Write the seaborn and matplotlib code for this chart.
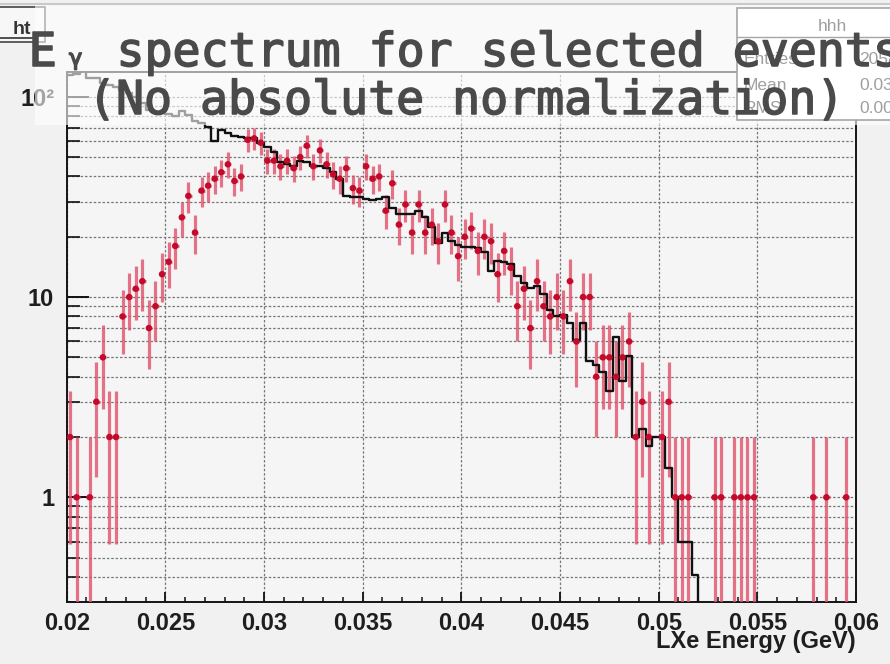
import numpy as np
import pandas as pd
import matplotlib
matplotlib.use("Agg")
import matplotlib.pyplot as plt
import matplotlib.patheffects as pe
import seaborn as sns
from matplotlib.patches import Rectangle
from matplotlib.lines import Line2D
from matplotlib.ticker import FixedLocator, LogLocator, NullFormatter

# ---------------- data ----------------
x_min, x_max, n_bins = 0.02, 0.06, 120

data_counts = [
    2, 1, 0, 1, 3, 5, 2, 2, 8, 10,
    11, 12, 7, 9, 13, 15, 18, 25, 32, 21,
    34, 36, 39, 42, 46, 38, 40, 61, 62, 59,
    48, 48, 45, 48, 44, 50, 57, 45, 54, 46,
    41, 39, 44, 35, 34, 45, 39, 40, 27, 37,
    23, 29, 21, 29, 21, 23, 19, 29, 21, 16,
    20, 22, 17, 20, 19, 13, 17, 14, 9, 11,
    7, 12, 9, 8, 10, 8, 12, 6, 10, 10,
    4, 5, 5, 4, 5, 6, 2, 3, 2, 0,
    2, 3, 1, 1, 1, 0, 0, 0, 1, 1,
    0, 1, 1, 1, 1, 0, 0, 0, 0, 0,
    0, 0, 0, 1, 0, 1, 0, 0, 1, 0,
]

mc_counts = [
    128, 130, 135, 124, 124, 117, 115, 112, 108, 104,
    100, 93, 86, 84, 83, 82, 80, 85, 81, 76,
    74, 71, 60, 68, 66, 64, 63, 62, 62, 59,
    56, 53, 47, 46, 45, 48, 47, 45, 45, 44,
    42, 39, 32, 31.5, 31.5, 31, 30.5, 31, 31.5, 28,
    26, 26, 26, 27, 25, 22.5, 18.6, 21, 19, 18.2,
    17.8, 17.8, 17.5, 16.8, 13.5, 15.2, 15, 14.7, 12.8, 11.8,
    11.1, 11.4, 10.4, 8.6, 8.0, 8.1, 7.4, 6.1, 7.4, 4.8,
    4.6, 4.2, 3.4, 6.3, 3.8, 5.1, 2.0, 2.2, 1.8, 2.0,
    2.0, 1.4, 1.0, 0.6, 0.6, 0.41, 0, 0, 0, 0,
    0, 0, 0, 0, 0, 0, 0, 0, 0, 0,
    0, 0, 0, 0, 0, 0, 0, 0, 0, 0,
]

x_tick_values = [0.02, 0.025, 0.03, 0.035, 0.04, 0.045, 0.05, 0.055, 0.06]
x_tick_labels = ["0.02", "0.025", "0.03", "0.035", "0.04", "0.045", "0.05", "0.055", "0.06"]
y_tick_values = [1, 10, 100]
y_tick_labels = ["1", "10", "10²"]

title_line1_main = "E"
title_line1_sub = "γ"
title_line1_rest = "spectrum for selected events"
title_line2 = "(No absolute normalization)"
x_label = "LXe Energy (GeV)"
stats_name = "hhh"
stats_rows = [("Entries", None), ("Mean", "0.03452"), ("RMS", "0.006087")]

# ---------------- figure ----------------
sns.set_theme(style="ticks")
plt.rcParams["font.family"] = ["Liberation Sans", "DejaVu Sans"]

W, H = 890, 664
fig = plt.figure(figsize=(W / 100, H / 100), dpi=100, facecolor="#f1f1f1")

def fx(px):
    return px / W

def fy(py):
    return 1 - py / H

ax_l, ax_r, ax_t, ax_b = 66.7, 856, 72, 602
ax = fig.add_axes([fx(ax_l), fy(ax_b), (ax_r - ax_l) / W, (ax_b - ax_t) / H])
ax.set_facecolor("#f5f5f5")
ax.set_yscale("log")

edges = np.linspace(x_min, x_max, n_bins + 1)
centers = 0.5 * (edges[:-1] + edges[1:])
bw = edges[1] - edges[0]
counts = np.array(data_counts, dtype=float)
mc = np.array(mc_counts, dtype=float)

# MC histogram (black step outline over bin edges)
df_mc = pd.DataFrame({"E": edges, "N": np.append(mc, mc[-1])})
sns.lineplot(data=df_mc, x="E", y="N", drawstyle="steps-post", color="#111111",
             linewidth=1.7, ax=ax, zorder=4, estimator=None)

# data points with Poisson errors
nz = counts > 0
yc = counts[nz]
err = np.sqrt(yc)
lower = np.minimum(err, yc * 0.999)
ax.errorbar(centers[nz], yc, xerr=bw / 2, yerr=[lower, err], fmt="none",
            ecolor="#e2506c", elinewidth=2.3, capsize=0, alpha=0.8, zorder=3)
sns.scatterplot(x=centers[nz], y=yc, color="#c40a2a", s=22, edgecolor="none",
                ax=ax, zorder=5, legend=False)

ax.set_xlim(x_min, x_max)
ax.set_ylim(0.3, 133)
ax.set_ylabel("")

tick_font = dict(family="Liberation Sans", weight="bold", size=17)
ax.xaxis.set_major_locator(FixedLocator(x_tick_values))
ax.set_xticklabels(x_tick_labels, fontdict=tick_font, color="#1e1e1e")
ax.xaxis.set_minor_locator(FixedLocator(np.linspace(x_min, x_max, 41)))
ax.yaxis.set_major_locator(FixedLocator(y_tick_values))
ax.set_yticklabels(y_tick_labels, fontdict=tick_font, color="#1e1e1e")
ax.yaxis.set_minor_locator(LogLocator(base=10, subs=np.arange(2, 10)))
ax.yaxis.set_minor_formatter(NullFormatter())

ax.tick_params(axis="y", which="major", direction="in", length=16, width=1.4,
               pad=9, color="#111111")
ax.tick_params(axis="y", which="minor", direction="in", length=9.5, width=1.2,
               color="#111111")
ax.tick_params(axis="x", which="major", direction="in", length=7, width=1.3,
               pad=7, color="#111111")
ax.tick_params(axis="x", which="minor", direction="in", length=3.8, width=1.1,
               color="#111111")

grid_kw = dict(color="#777777", linewidth=0.9, linestyle=(0, (2.0, 1.5)))
ax.yaxis.grid(True, which="both", **grid_kw)
ax.xaxis.grid(True, which="major", **grid_kw)
ax.set_axisbelow(True)

for s in ax.spines.values():
    s.set_color("#151515")
    s.set_linewidth(1.4)

ax.set_xlabel(x_label, fontdict=dict(family="Liberation Sans", weight="bold", size=17),
              color="#1e1e1e", loc="right")
ax.xaxis.set_label_coords(1.0, -(630 - ax_b) / (ax_b - ax_t))

# ---------------- ROOT stats box (under the white overlay) ----------------
fig.add_artist(Rectangle((fx(737), fy(120)), fx(895) - fx(737), (120 - 8) / H,
                         transform=fig.transFigure, facecolor="white",
                         edgecolor="#222222", linewidth=1.2, zorder=0.8))
fig.add_artist(Line2D([fx(737), fx(895)], [fy(37), fy(37)],
                      transform=fig.transFigure, color="#222222", lw=1.0, zorder=0.85))
fig.text(fx(832), fy(31), stats_name, ha="center", va="baseline", fontsize=12.5,
         color="#111111", zorder=0.9)
row_y = [64, 90, 113]
for (lab, val), yy in zip(stats_rows, row_y):
    fig.text(fx(744), fy(yy), lab, ha="left", va="baseline", fontsize=12.5,
             color="#111111", zorder=0.9)
    v = val if val is not None else f"{int(counts.sum())}"
    fig.text(fx(859), fy(yy), v, ha="left", va="baseline", fontsize=12.5,
             color="#111111", zorder=0.9)

# ---------------- top-left canvas label box ----------------
fig.add_artist(Rectangle((fx(-5), fy(42)), fx(45) - fx(-5), (42 - 7) / H,
                         transform=fig.transFigure, facecolor="#f7f7f7",
                         edgecolor="#444444", linewidth=1.2, zorder=0.8))
fig.text(fx(13), fy(34), "ht", ha="left", va="baseline", fontsize=14,
         weight="bold", color="#333333", zorder=0.9)
fig.add_artist(Line2D([fx(0), fx(33)], [fy(38), fy(38)], transform=fig.transFigure,
                      color="#333333", lw=1.2, zorder=0.9))

# ---------------- translucent title overlay ----------------
fig.add_artist(Line2D([0, 1], [fy(4), fy(4)], transform=fig.transFigure,
                      color="#c9c9c9", lw=1.5, zorder=1.1))
fig.add_artist(Rectangle((fx(35), fy(125)), 1 - fx(35), (125 - 5) / H,
                         transform=fig.transFigure, facecolor="white",
                         edgecolor="none", alpha=0.6, zorder=1))

mono = ["DejaVu Sans Mono"]
tcol = "#4a4a4a"
thick = [pe.withStroke(linewidth=1.1, foreground=tcol)]
fig.text(fx(28.5), fy(66), title_line1_main, family=mono, fontsize=33.5,
         color=tcol, ha="left", va="baseline", zorder=3, path_effects=thick)
fig.text(fx(69), fy(65), title_line1_sub, family=["DejaVu Sans"], fontsize=16,
         color=tcol, ha="left", va="baseline", zorder=3, path_effects=thick)
fig.text(fx(116.5), fy(66), title_line1_rest, family=mono, fontsize=33.5,
         color=tcol, ha="left", va="baseline", zorder=3, path_effects=thick)
fig.text(fx(88), fy(114), title_line2, family=mono, fontsize=33.5,
         color=tcol, ha="left", va="baseline", zorder=3, path_effects=thick)

fig.savefig("out.png", dpi=100, facecolor=fig.get_facecolor())
